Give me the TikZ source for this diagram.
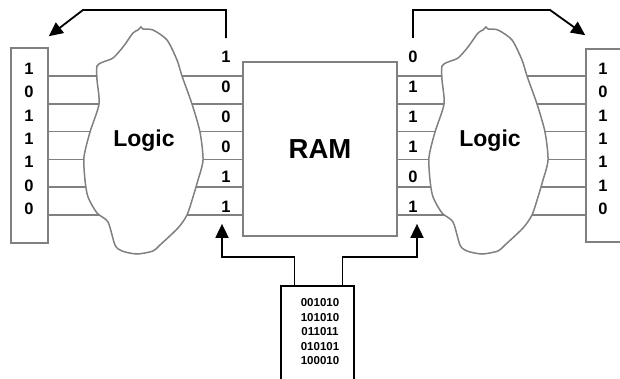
\documentclass[tikz,border=0pt]{standalone}
\usepackage{fontspec}
\setmainfont{Liberation Sans}
\usetikzlibrary{arrows.meta,positioning,calc}
\definecolor{ramgray}{RGB}{128,128,128}

% outline of one logic cloud (left one, in pixel units)
\newcommand{\logicoutline}{plot[smooth cycle, tension=0.45] coordinates {
  (97,66) (97,80) (99,104) (90,132) (84,157) (85,180) (88,197) (97,213)
  (108,222) (115,245) (122,251) (137,254) (153,251) (160,245) (178,228)
  (187,215) (193,197) (198,180) (203,160) (200,132) (192,104) (182,76)
  (177,60) (167,40) (153,30) (143,29) (141,27) (138,30) (133,33) (123,47)
  (113,58) (103,62)}}

\begin{document}
\begin{tikzpicture}[x=1pt, y=-1pt,
  regbox/.style={draw=ramgray, line width=1.6pt, fill=white, inner sep=0pt},
  wire/.style={draw=ramgray, line width=1.5pt},
  cloud/.style={draw=ramgray, line width=1.5pt, fill=white},
  flow/.style={draw=black, line width=1.8pt, -{Triangle[length=14pt,width=13pt]}},
  bit/.style={font=\fontsize{16.5}{18}\selectfont\bfseries, inner sep=1pt},
  big/.style={font=\fontsize{23}{25}\selectfont\bfseries}]
  \useasboundingbox (0,0) rectangle (620,379);

  % registers and RAM
  \node[regbox, minimum width=37pt, minimum height=195pt] (lreg) at (29.5,145.5) {};
  \node[regbox, minimum width=38pt, minimum height=193pt] (rreg) at (605,145.5) {};
  \node[regbox, minimum width=154pt, minimum height=174pt] (ram) at (320,149) {};

  % wires
  \foreach \i in {0,...,5} {
    \pgfmathsetmacro\wy{76+27.8*\i}
    \draw[wire] (lreg.east |- 0,\wy) -- (ram.west |- 0,\wy);
    \draw[wire] (ram.east |- 0,\wy) -- (rreg.west |- 0,\wy);
  }

  % logic clouds
  \draw[cloud] \logicoutline;
  \draw[cloud, xshift=345pt] \logicoutline;
  \node[big, anchor=base] (logicL) at (144,147) {Logic};
  \node[big, anchor=base] (logicR) at (490,147) {Logic};
  \node[font=\fontsize{27.5}{30}\selectfont\bfseries] (ramtext) at (ram.center) {RAM};

  % bits
  \foreach \b [count=\i from 0] in {1,0,1,1,1,0,0}
    \node[bit] (lr\i) at (29,{69+23.3*\i}) {\b};
  \foreach \b [count=\i from 0] in {1,0,1,1,1,1,0}
    \node[bit] (rr\i) at (603,{69+23.3*\i}) {\b};
  \foreach \b [count=\i] in {1,0,0,0,1,1}
    \node[bit] (lb\i) at (226,{27+30*\i}) {\b};
  \foreach \b [count=\i] in {0,1,1,1,0,1}
    \node[bit] (rb\i) at (413,{27+30*\i}) {\b};

  % memory
  \node[draw=black, line width=1.8pt, minimum width=73pt, minimum height=110pt,
        anchor=north] (mem) at (317.5,285) {};
  \node[align=center, font=\fontsize{11.5}{14.5}\selectfont\bfseries] (memtext)
    at (320,332) {001010\\101010\\011011\\010101\\100010};

  % arrows
  \draw[flow] ([yshift=12pt]lb1.north) |- (83,10) -- ([yshift=11pt]lreg.north east);
  \draw[flow] ([yshift=12pt]rb1.north) |- (550,10) -- ([yshift=13pt]rreg.north west);
  \draw[flow] ([xshift=-23pt]mem.north) -- ++(0,-28) -| ([xshift=-4pt,yshift=-10pt]lb6.south);
  \draw[flow] ([xshift=25pt]mem.north) -- ++(0,-28) -| ([xshift=4pt,yshift=-10pt]rb6.south);
\end{tikzpicture}
\end{document}
